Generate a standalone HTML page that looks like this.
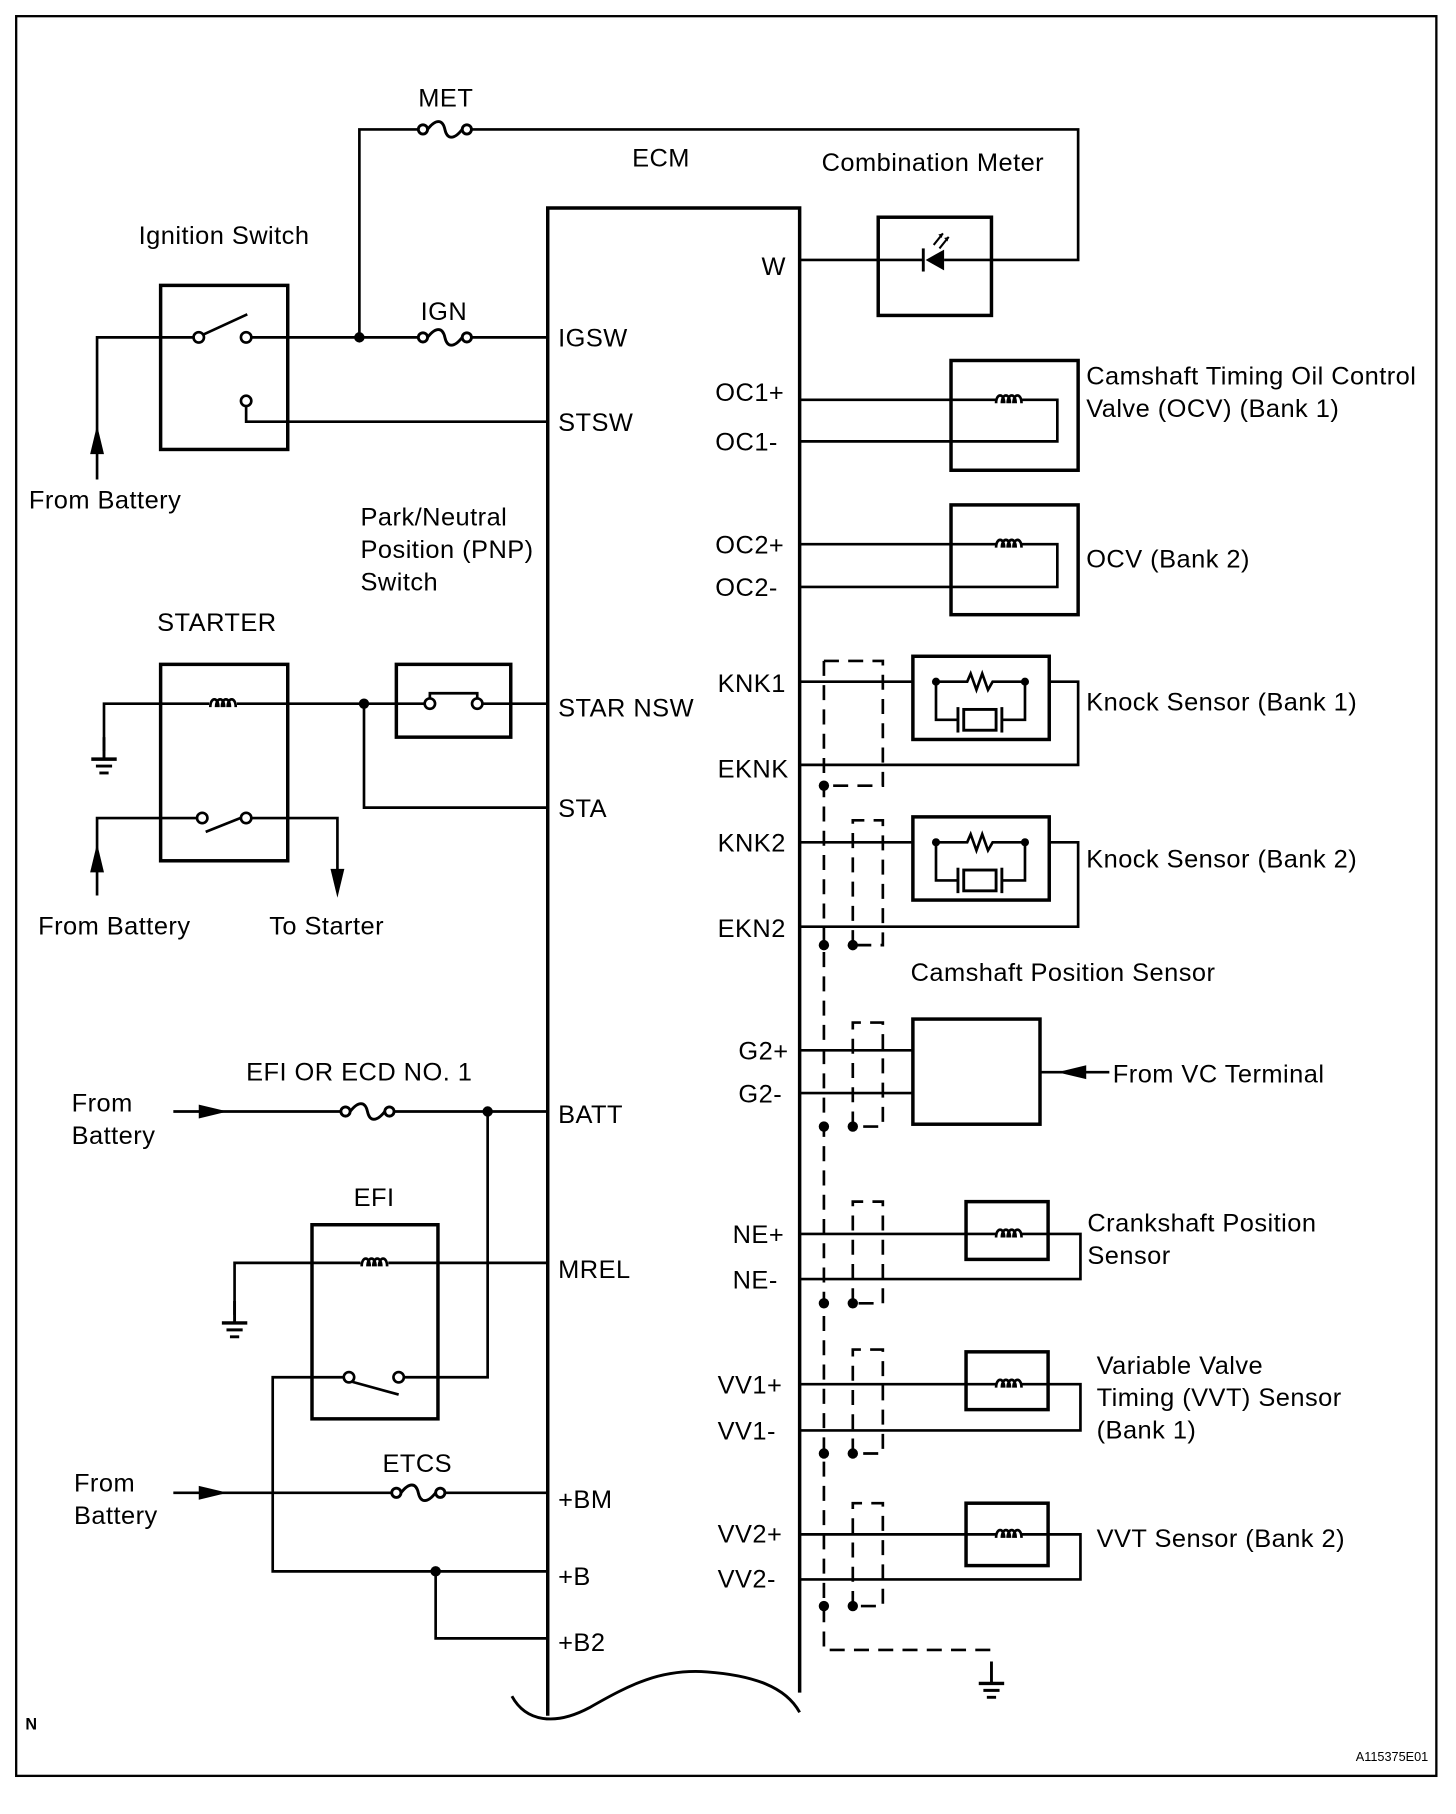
<!DOCTYPE html>
<html><head><meta charset="utf-8"><style>
html,body{margin:0;padding:0;background:#fff;}
svg{display:block;}
text{font-family:"Liberation Sans",sans-serif;font-size:22px;letter-spacing:0.4px;fill:#000;}
</style></head><body>
<svg width="1456" height="1814" viewBox="0 0 1260 1570" preserveAspectRatio="none" xmlns="http://www.w3.org/2000/svg">
<defs>
<g id="fuse"><circle cx="-19" cy="0" r="4" fill="#fff" stroke="#000" stroke-width="2.5"/><circle cx="19" cy="0" r="4" fill="#fff" stroke="#000" stroke-width="2.5"/><path d="M-15,0 C-8,-9 -2,-9 0,0 S8,9 15,0" fill="none" stroke="#000" stroke-width="2.5"/></g>
<g id="coil"><path d="M-11,3 C-11,-6 -4,-6 -4,3 M-6,3 C-6,-6 1,-6 1,3 M-1,3 C-1,-6 6,-6 6,3 M4,3 C4,-6 11,-6 11,3" fill="none" stroke="#000" stroke-width="2.3"/></g>
<g id="gnd"><line x1="0" y1="0" x2="0" y2="18" stroke="#000" stroke-width="2.5"/><line x1="-11" y1="19" x2="11" y2="19" stroke="#000" stroke-width="3"/><line x1="-7" y1="25" x2="7" y2="25" stroke="#000" stroke-width="2.5"/><line x1="-4" y1="31" x2="4" y2="31" stroke="#000" stroke-width="2.5"/></g>
<g id="knk"><rect x="0" y="0" width="118" height="72" fill="none" stroke="#000" stroke-width="3"/><circle cx="20" cy="22" r="3.5"/><circle cx="97" cy="22" r="3.5"/><path d="M20,22 H47 l3,-7 l5,14 l5,-14 l5,14 l4,-7 H97 M20,22 V55 H38 M97,22 V55 H78" fill="none" stroke="#000" stroke-width="2.3"/><line x1="39" y1="44" x2="39" y2="66" stroke="#000" stroke-width="2.5"/><line x1="77" y1="44" x2="77" y2="66" stroke="#000" stroke-width="2.5"/><rect x="44" y="46" width="28" height="18" fill="none" stroke="#000" stroke-width="2.5"/></g>
</defs>
<g fill="none" stroke="#000" stroke-width="2.3">
<rect x="14" y="14" width="1229" height="1523" stroke-width="2"/>
<path d="M474,1485 V180 H692 V1465" stroke-width="3"/>
<path d="M443,1468 C455,1490 480,1494 510,1478 C545,1458 572,1444 612,1447 C652,1450 680,1460 692,1482" stroke-width="2.5"/>
<path d="M311,292 V112 H366 M404,112 H933 V225 H858"/>
<rect x="760" y="188" width="98" height="85" stroke-width="3"/>
<path d="M692,225 H760"/>
<path d="M858,225 H817 M800,225 H760"/>
<rect x="139" y="247" width="110" height="142" stroke-width="3"/>
<path d="M84,415 V292 H168 M217,292 H366 M404,292 H474"/>
<path d="M175,290 L214,272"/>
<path d="M213,351 V365 H474"/>
<rect x="139" y="575" width="110" height="170" stroke-width="3"/>
<path d="M90,650 V609 H181 M205,609 H343 M442,609 H474"/>
<path d="M315,609 V699 H474"/>
<rect x="343" y="575" width="99" height="63" stroke-width="3"/>
<path d="M372,605 V600 H413 V605"/>
<path d="M372,609 H343 M413,609 H442"/>
<path d="M84,775 V708 H171 M217,708 H292 V760"/>
<path d="M178,720 L213,706"/>
<path d="M150,962 H299 M337,962 H474 M422,962 V1192 H349"/>
<rect x="270" y="1060" width="109" height="168" stroke-width="3"/>
<path d="M203,1138 V1093 H312 M336,1093 H474"/>
<path d="M298,1192 H236 V1360 H474 M377,1360 V1418 H474"/>
<path d="M305,1196 L345,1207"/>
<path d="M150,1292 H343 M381,1292 H474"/>
<rect x="823" y="312" width="110" height="95" stroke-width="3"/>
<path d="M692,346 H862 M884,346 H915 V382 H692"/>
<rect x="823" y="437" width="110" height="95" stroke-width="3"/>
<path d="M692,471 H862 M884,471 H915 V508 H692"/>
<path d="M692,590 H790 M908,590 H933 V662 H692"/>
<path d="M692,729 H790 M908,729 H933 V802 H692"/>
<path d="M692,909 H790 M692,946 H790"/>
<rect x="790" y="882" width="110" height="91" stroke-width="3"/>
<path d="M900,928 H960"/>
<rect x="836" y="1040" width="71" height="50" stroke-width="3"/>
<path d="M692,1068 H862 M884,1068 H935 V1107 H692"/>
<rect x="836" y="1170" width="71" height="50" stroke-width="3"/>
<path d="M692,1198 H862 M884,1198 H935 V1238 H692"/>
<rect x="836" y="1301" width="71" height="54" stroke-width="3"/>
<path d="M692,1328 H862 M884,1328 H935 V1367 H692"/>
<g stroke-dasharray="13,8" stroke-width="2.3">
<path d="M713,572 H764 V680 H713"/>
<path d="M713,572 V1428 H858"/>
<path d="M738,818 V710 H764 V818 H738"/>
<path d="M738,975 V885 H764 V975 H738"/>
<path d="M738,1128 V1040 H764 V1128 H738"/>
<path d="M738,1258 V1168 H764 V1258 H738"/>
<path d="M738,1390 V1301 H764 V1390 H738"/>
</g>
</g>
<path d="M817,216 L801,225 L817,234 Z" fill="#000"/>
<line x1="799" y1="215" x2="799" y2="235" stroke="#000" stroke-width="2.5"/>
<path d="M808,212 l8,-10 M813,215 l8,-10" stroke="#000" stroke-width="1.8"/>
<path d="M816,202 l-4,1 l3,3 Z M821,205 l-4,1 l3,3 Z" fill="#000"/>
<use href="#fuse" x="385" y="112"/>
<use href="#fuse" x="385" y="292"/>
<use href="#fuse" x="318" y="962"/>
<use href="#fuse" x="362" y="1292"/>
<use href="#coil" x="193" y="609"/>
<use href="#coil" x="324" y="1093"/>
<use href="#coil" x="873" y="346"/>
<use href="#coil" x="873" y="471"/>
<use href="#coil" x="873" y="1068"/>
<use href="#coil" x="873" y="1198"/>
<use href="#coil" x="873" y="1328"/>
<use href="#knk" x="790" y="568"/>
<use href="#knk" x="790" y="707"/>
<use href="#gnd" x="90" y="638"/>
<use href="#gnd" x="203" y="1126"/>
<use href="#gnd" x="858" y="1438"/>
<g fill="#fff" stroke="#000" stroke-width="2.3">
<circle cx="172" cy="292" r="4.5"/><circle cx="213" cy="292" r="4.5"/><circle cx="213" cy="347" r="4.5"/>
<circle cx="372" cy="609" r="4.5"/><circle cx="413" cy="609" r="4.5"/>
<circle cx="175" cy="708" r="4.5"/><circle cx="213" cy="708" r="4.5"/>
<circle cx="302" cy="1192" r="4.5"/><circle cx="345" cy="1192" r="4.5"/>
</g>
<g fill="#000">
<circle cx="311" cy="292" r="4.5"/><circle cx="315" cy="609" r="4.5"/><circle cx="422" cy="962" r="4.5"/><circle cx="377" cy="1360" r="4.5"/>
<circle cx="713" cy="680" r="4.5"/>
<circle cx="713" cy="818" r="4.5"/><circle cx="738" cy="818" r="4.5"/>
<circle cx="713" cy="975" r="4.5"/><circle cx="738" cy="975" r="4.5"/>
<circle cx="713" cy="1128" r="4.5"/><circle cx="738" cy="1128" r="4.5"/>
<circle cx="713" cy="1258" r="4.5"/><circle cx="738" cy="1258" r="4.5"/>
<circle cx="713" cy="1390" r="4.5"/><circle cx="738" cy="1390" r="4.5"/>
<path d="M84,368 l-6,25 h12 Z"/>
<path d="M84,730 l-6,25 h12 Z"/>
<path d="M292,777 l-6,-25 h12 Z"/>
<path d="M197,962 l-25,-6 v12 Z"/>
<path d="M197,1292 l-25,-6 v12 Z"/>
<path d="M915,928 l25,-6 v12 Z"/>
</g>
<text x="362" y="92">MET</text>
<text x="547" y="144">ECM</text>
<text x="711" y="148">Combination Meter</text>
<text x="120" y="211">Ignition Switch</text>
<text x="659" y="238">W</text>
<text x="364" y="277">IGN</text>
<text x="483" y="300">IGSW</text>
<text x="483" y="373">STSW</text>
<text x="619" y="347">OC1+</text>
<text x="619" y="390">OC1-</text>
<text x="940" y="333">Camshaft Timing Oil Control</text>
<text x="940" y="361">Valve (OCV) (Bank 1)</text>
<text x="25" y="440">From Battery</text>
<text x="312" y="455">Park/Neutral</text>
<text x="312" y="483">Position (PNP)</text>
<text x="312" y="511">Switch</text>
<text x="619" y="479">OC2+</text>
<text x="619" y="516">OC2-</text>
<text x="940" y="491">OCV (Bank 2)</text>
<text x="136" y="546">STARTER</text>
<text x="621" y="599">KNK1</text>
<text x="483" y="620">STAR NSW</text>
<text x="940" y="615">Knock Sensor (Bank 1)</text>
<text x="621" y="673">EKNK</text>
<text x="483" y="707">STA</text>
<text x="621" y="737">KNK2</text>
<text x="940" y="751">Knock Sensor (Bank 2)</text>
<text x="33" y="809">From Battery</text>
<text x="233" y="809">To Starter</text>
<text x="621" y="811">EKN2</text>
<text x="788" y="849">Camshaft Position Sensor</text>
<text x="639" y="917">G2+</text>
<text x="639" y="954">G2-</text>
<text x="963" y="937">From VC Terminal</text>
<text x="213" y="935">EFI OR ECD NO. 1</text>
<text x="62" y="962">From</text>
<text x="62" y="990">Battery</text>
<text x="483" y="972">BATT</text>
<text x="306" y="1044">EFI</text>
<text x="634" y="1076">NE+</text>
<text x="634" y="1115">NE-</text>
<text x="941" y="1066">Crankshaft Position</text>
<text x="941" y="1094">Sensor</text>
<text x="483" y="1106">MREL</text>
<text x="621" y="1206">VV1+</text>
<text x="621" y="1246">VV1-</text>
<text x="949" y="1189">Variable Valve</text>
<text x="949" y="1217">Timing (VVT) Sensor</text>
<text x="949" y="1245">(Bank 1)</text>
<text x="331" y="1274">ETCS</text>
<text x="64" y="1291">From</text>
<text x="64" y="1319">Battery</text>
<text x="483" y="1305">+BM</text>
<text x="621" y="1335">VV2+</text>
<text x="621" y="1374">VV2-</text>
<text x="949" y="1339">VVT Sensor (Bank 2)</text>
<text x="483" y="1372">+B</text>
<text x="483" y="1429">+B2</text>
<text x="22" y="1497" style="font-size:14px;font-weight:bold;letter-spacing:0">N</text>
<text x="1236" y="1524" text-anchor="end" style="font-size:11px;letter-spacing:0">A115375E01</text>
</svg>
</body></html>
